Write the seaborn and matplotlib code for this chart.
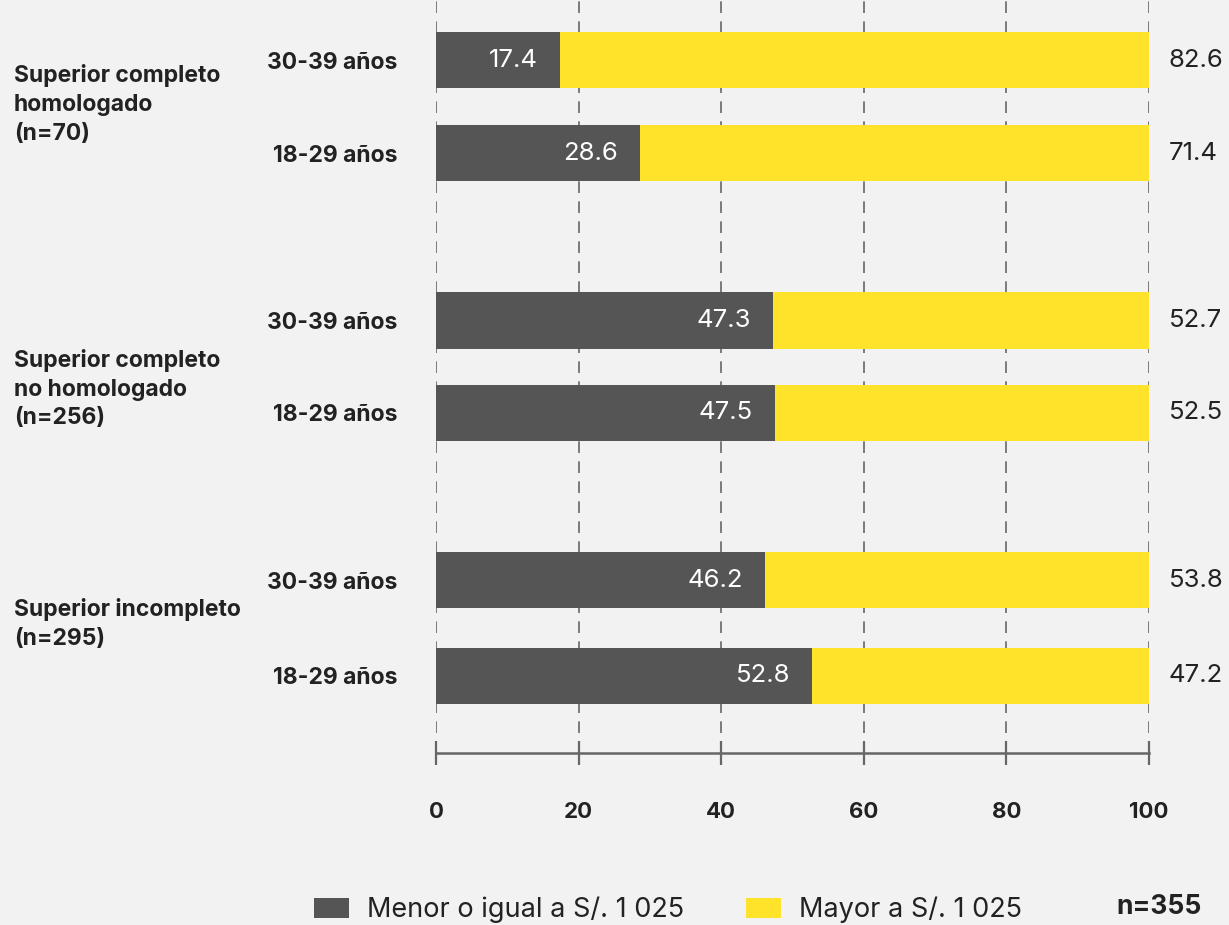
import matplotlib
matplotlib.use("Agg")
import matplotlib.pyplot as plt
import seaborn as sns
import pandas as pd
from matplotlib.patches import Patch
from matplotlib.transforms import blended_transform_factory

# ---------------- data ----------------
group_labels = ["Superior completo\nhomologado\n(n=70)",
                "Superior completo\nno homologado\n(n=256)",
                "Superior incompleto\n(n=295)"]
age_labels = ["30-39 años", "18-29 años", "30-39 años", "18-29 años",
              "30-39 años", "18-29 años"]
menor = [17.4, 28.6, 47.3, 47.5, 46.2, 52.8]
mayor = [82.6, 71.4, 52.7, 52.5, 53.8, 47.2]
series_names = ["Menor o igual a S/. 1 025", "Mayor a S/. 1 025"]
x_ticks = [0, 20, 40, 60, 80, 100]
note = "n=355"

# ---------------- layout (positions / styles) ----------------
bar_pos = [0, 0.99, 2.77, 3.75, 5.53, 6.55]
group_label_pos = [0.47, 3.5, 6.0]
c_dark = "#555555"
c_yellow = "#FFE22A"
bg = "#F2F2F2"
txt = "#222222"

sns.set_theme(style="white")
plt.rcParams["font.family"] = ["Inter", "DejaVu Sans"]

fig = plt.figure(figsize=(12.29, 9.25), dpi=100, facecolor=bg)
ax = fig.add_axes([436 / 1229, 1 - 753 / 925, (1149 - 436) / 1229, 753 / 925])
ax.set_facecolor(bg)

total = [a + b for a, b in zip(menor, mayor)]
df = pd.DataFrame({"pos": bar_pos, "menor": menor, "mayor": mayor, "total": total})

sns.barplot(data=df, x="total", y="pos", orient="y", native_scale=True,
            color=c_yellow, saturation=1, width=0.61, errorbar=None, ax=ax,
            linewidth=0)
sns.barplot(data=df, x="menor", y="pos", orient="y", native_scale=True,
            color=c_dark, saturation=1, width=0.61, errorbar=None, ax=ax,
            linewidth=0)

ax.set_xlim(0, 100)
ax.set_ylim(7.37, -0.64)
ax.set_xlabel("")
ax.set_ylabel("")

# grid / spines / ticks
ax.set_axisbelow(True)
ax.xaxis.grid(True, linestyle=(0, (7, 5)), color="#666666", linewidth=1.2)
ax.yaxis.grid(False)
for s in ["top", "right", "left"]:
    ax.spines[s].set_visible(False)
ax.spines["bottom"].set_color("#666666")
ax.spines["bottom"].set_linewidth(1.8)
ax.set_xticks(x_ticks)
ax.set_xticklabels([str(t) for t in x_ticks], fontsize=16, fontweight="bold", color=txt)
ax.tick_params(axis="x", bottom=True, direction="inout", length=17, width=1.6,
               color="#666666", pad=27)
ax.set_yticks(bar_pos)
ax.set_yticklabels(age_labels, fontsize=16.5, fontweight="bold", color=txt)
ax.tick_params(axis="y", left=False, length=0, pad=28)

# value labels
cont_yellow = ax.containers[0]
cont_dark = ax.containers[1]
ax.bar_label(cont_yellow, labels=[f"{v:.1f}" for v in mayor], padding=14,
             fontsize=18.5, color=txt)
for p, v in zip(cont_dark.patches, menor):
    ax.annotate(f"{v:.1f}", xy=(p.get_width(), p.get_y() + p.get_height() / 2),
                xytext=(-16, 0), textcoords="offset points", ha="right", va="center",
                fontsize=18.5, color="white")

# group labels
trans = blended_transform_factory(fig.transFigure, ax.transData)
for lab, y in zip(group_labels, group_label_pos):
    fig.text(14 / 1229, y, lab, transform=trans, ha="left", va="center",
             fontsize=16.5, fontweight="bold", color=txt, linespacing=1.4)

# legend
handles = [Patch(facecolor=c_dark, edgecolor="none"), Patch(facecolor=c_yellow, edgecolor="none")]
fig.legend(handles, series_names, loc="center", bbox_to_anchor=(668 / 1229, 1 - 910 / 925),
           ncol=2, frameon=False, fontsize=19.5, handlelength=1.29, handleheight=0.74,
           handletextpad=0.66, columnspacing=2.3, labelcolor=txt)
fig.text(1159 / 1229, 1 - 907 / 925, note, ha="center", va="center", fontsize=19,
         fontweight="bold", color=txt)

fig.savefig("out.png", dpi=100, facecolor=bg)
